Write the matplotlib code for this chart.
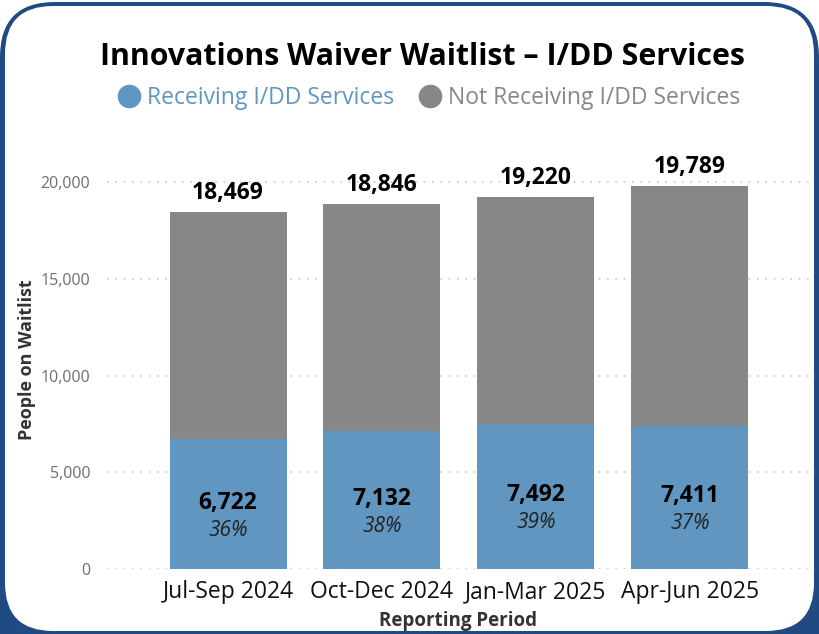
import numpy as np
import matplotlib
matplotlib.use("Agg")
import matplotlib.pyplot as plt
from matplotlib.patches import FancyBboxPatch
from matplotlib.lines import Line2D

periods = ["Jul-Sep 2024", "Oct-Dec 2024", "Jan-Mar 2025", "Apr-Jun 2025"]
total = [18469, 18846, 19220, 19789]
receiving = [6722, 7132, 7492, 7411]
pct_labels = ["36%", "38%", "39%", "37%"]
not_receiving = [t - r for t, r in zip(total, receiving)]

blue = "#6096c0"
grey = "#878787"
navy = "#1f4a82"

plt.rcParams['font.family'] = ['Open Sans', 'DejaVu Sans']

fig = plt.figure(figsize=(8.19, 6.34), dpi=100)
fig.patch.set_facecolor("white")

# rounded frame (pixel coords)
back = FancyBboxPatch((0, -60), 819, 692, boxstyle="round,pad=0,rounding_size=55",
                      transform=None, facecolor=navy, edgecolor="none", zorder=-3)
front = FancyBboxPatch((5, 3), 809, 625, boxstyle="round,pad=0,rounding_size=48",
                       transform=None, facecolor="white", edgecolor="none", zorder=-2)
fig.patches.extend([back, front])

ax = fig.add_axes([107/819, 65/634, 703/819, 419/634])
ax.set_facecolor("none")
x = np.arange(len(periods))
w = 0.76
ax.bar(x, receiving, w, color=blue, zorder=2)
ax.bar(x, not_receiving, w, bottom=receiving, color=grey, zorder=2)

ax.set_xlim(-0.786, 3.78)
ax.set_ylim(0, 21654)
ax.set_yticks([0, 5000, 10000, 15000, 20000])
ax.set_yticklabels(["0", "5,000", "10,000", "15,000", "20,000"])
ax.yaxis.grid(True, color="#c8c8c8", linestyle=(0, (1, 4)), linewidth=1.2)
ax.set_axisbelow(True)
for s in ax.spines.values():
    s.set_visible(False)
ax.tick_params(axis="y", length=0, labelsize=11.5, labelcolor="#6f6f6f", pad=12)
ax.tick_params(axis="x", length=0, labelsize=16.5, labelcolor="#111111", pad=8)
ax.set_xticks(x)
ax.set_xticklabels(periods)

ax.set_ylabel("People on Waitlist", fontsize=13, fontweight="bold", color="#333333", labelpad=3)
ax.set_xlabel("Reporting Period", fontsize=13.5, fontweight="bold", color="#333333", labelpad=5)

for i in range(len(periods)):
    ax.annotate(f"{total[i]:,}", (x[i], total[i]), xytext=(0, 5), textcoords="offset points",
                ha="center", va="bottom", fontsize=16.5, fontweight="bold", color="black")
    ax.annotate(f"{receiving[i]:,}", (x[i], receiving[i] / 2), xytext=(0, 1), textcoords="offset points",
                ha="center", va="center", fontsize=16.5, fontweight="bold", color="black")
    ax.annotate(pct_labels[i], (x[i], receiving[i] / 2), xytext=(0, -19), textcoords="offset points",
                ha="center", va="center", fontsize=15, fontstyle="italic", color="#222222")

fig.text(0.516, 0.91, "Innovations Waiver Waitlist \u2013 I/DD Services", ha="center", va="center",
         fontsize=21.8, fontweight="bold", color="black")

handles = [Line2D([], [], marker="o", linestyle="none", markersize=16, color=blue),
           Line2D([], [], marker="o", linestyle="none", markersize=16, color=grey)]
leg = fig.legend(handles, ["Receiving I/DD Services", "Not Receiving I/DD Services"],
                 loc="center", bbox_to_anchor=(0.523, 0.845), ncol=2, frameon=False,
                 fontsize=16.5, handletextpad=0.25, columnspacing=1.0, handlelength=1.1)
for t, c in zip(leg.get_texts(), [blue, grey]):
    t.set_color(c)

fig.savefig("out.png", dpi=100)
